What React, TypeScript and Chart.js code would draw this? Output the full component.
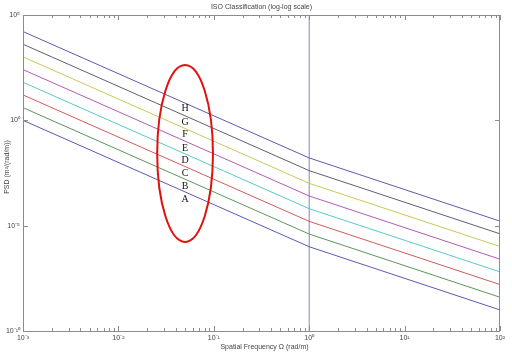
import React, { useEffect, useRef } from "react";
import { Chart, registerables } from "chart.js";

Chart.register(...registerables);

// Spatial frequency Ω (rad/m) break points
const OMEGA = [0.001, 1, 100];
// PSD values (m^2/(rad/m)) per ISO class at the break points
const CLASS_A = [1, 1e-6, 1e-9];
const CLASS_B = [4, 4e-6, 4e-9];
const CLASS_C = [16, 1.6e-5, 1.6e-8];
const CLASS_D = [64, 6.4e-5, 6.4e-8];
const CLASS_E = [256, 2.56e-4, 2.56e-7];
const CLASS_F = [1024, 1.024e-3, 1.024e-6];
const CLASS_G = [4096, 4.096e-3, 4.096e-6];
const CLASS_H = [16384, 1.6384e-2, 1.6384e-5];
const CLASS_NAMES = ["A", "B", "C", "D", "E", "F", "G", "H"];
const CLASS_COLORS = ["#5a5ab4", "#5a965a", "#d05a5a", "#5ac8c8", "#b45ab4", "#c8c85a", "#5f5f72", "#5a5ab4"];

// Reference frequency line Ω0
const OMEGA0_X = [1, 1];
const OMEGA0_Y = [1e-10, 1e5];

// Axis ticks
const X_TICKS = [
  0.001, 0.002, 0.003, 0.004, 0.005, 0.006, 0.007, 0.008, 0.009,
  0.01, 0.02, 0.03, 0.04, 0.05, 0.06, 0.07, 0.08, 0.09,
  0.1, 0.2, 0.3, 0.4, 0.5, 0.6, 0.7, 0.8, 0.9,
  1, 2, 3, 4, 5, 6, 7, 8, 9,
  10, 20, 30, 40, 50, 60, 70, 80, 90, 100,
];
const Y_TICKS = [1e-10, 1e-5, 1, 1e5];
const SUP: Record<string, string> = { "-": "⁻", "0": "⁰", "1": "¹", "2": "²", "3": "³", "4": "⁴", "5": "⁵", "6": "⁶", "7": "⁷", "8": "⁸", "9": "⁹" };

// Annotation (class letters in red ellipse), data coordinates
const LABEL_X = 0.05;
const LABEL_Y = [1.8e-4, 7.6e-4, 3.2e-3, 1.3e-2, 4.9e-2, 0.22, 0.83, 3.8];
const ELLIPSE_X = [0.0255, 0.098];
const ELLIPSE_Y = [1.7e-6, 420];

const TITLE = "ISO Classification (log-log scale)";
const X_TITLE = "Spatial Frequency Ω (rad/m)";
const Y_TITLE = "PSD (m²/(rad/m))";

function powLabel(v: number): string {
  const e = Math.round(Math.log10(v));
  if (Math.abs(Math.log10(v) - e) > 1e-9) return "";
  return "10" + String(e).split("").map((c) => SUP[c]).join("");
}

const AXIS_FONT = "'Liberation Sans', Arial, sans-serif";

export default function App() {
  const ref = useRef<HTMLCanvasElement | null>(null);
  useEffect(() => {
    if (!ref.current) return;
    const series = [CLASS_A, CLASS_B, CLASS_C, CLASS_D, CLASS_E, CLASS_F, CLASS_G, CLASS_H];
    const datasets: any[] = series.map((vals, i) => ({
      label: "Class " + CLASS_NAMES[i],
      data: OMEGA.map((x, j) => ({ x, y: vals[j] })),
      borderColor: CLASS_COLORS[i],
      borderWidth: 1,
      pointRadius: 0,
      tension: 0,
      fill: false,
    }));
    datasets.push({
      label: "Ω0",
      data: OMEGA0_X.map((x, j) => ({ x, y: OMEGA0_Y[j] })),
      borderColor: "#8585c2",
      borderWidth: 1,
      pointRadius: 0,
      fill: false,
    });

    const decor = {
      id: "decor",
      afterDraw(chart: any) {
        const ctx = chart.ctx as CanvasRenderingContext2D;
        const a = chart.chartArea;
        const xs = chart.scales.x;
        const ys = chart.scales.y;
        ctx.save();
        // box
        ctx.strokeStyle = "#8c8c8c";
        ctx.lineWidth = 1;
        ctx.strokeRect(a.left + 0.5, a.top + 0.5, a.right - a.left - 1, a.bottom - a.top);
        // x ticks (inward, top and bottom)
        ctx.beginPath();
        for (const t of xs.ticks) {
          const px = Math.round(xs.getPixelForValue(t.value)) + 0.5;
          const major = powLabel(t.value) !== "";
          const len = major ? 5 : 3;
          ctx.moveTo(px, a.bottom);
          ctx.lineTo(px, a.bottom - len);
          ctx.moveTo(px, a.top);
          ctx.lineTo(px, a.top + len);
        }
        for (const t of ys.ticks) {
          const py = Math.round(ys.getPixelForValue(t.value)) + 0.5;
          ctx.moveTo(a.left, py);
          ctx.lineTo(a.left + 5, py);
          ctx.moveTo(a.right, py);
          ctx.lineTo(a.right - 5, py);
        }
        ctx.stroke();
        // titles
        ctx.fillStyle = "#444";
        ctx.font = "7px " + AXIS_FONT;
        ctx.textAlign = "center";
        ctx.textBaseline = "middle";
        ctx.fillText(TITLE, (a.left + a.right) / 2, 7);
        ctx.fillText(X_TITLE, (a.left + a.right) / 2 + 3, 347);
        ctx.save();
        ctx.translate(7, (a.top + a.bottom) / 2 - 6);
        ctx.rotate(-Math.PI / 2);
        ctx.fillText(Y_TITLE, 0, 0);
        ctx.restore();
        // ellipse
        const x0 = xs.getPixelForValue(ELLIPSE_X[0]);
        const x1 = xs.getPixelForValue(ELLIPSE_X[1]);
        const y0 = ys.getPixelForValue(ELLIPSE_Y[1]);
        const y1 = ys.getPixelForValue(ELLIPSE_Y[0]);
        ctx.beginPath();
        ctx.ellipse((x0 + x1) / 2, (y0 + y1) / 2, (x1 - x0) / 2, (y1 - y0) / 2, 0, 0, Math.PI * 2);
        ctx.strokeStyle = "#e01010";
        ctx.lineWidth = 2;
        ctx.stroke();
        // class letters
        ctx.fillStyle = "#111";
        ctx.font = "10px 'Liberation Serif', 'Times New Roman', serif";
        const lx = xs.getPixelForValue(LABEL_X);
        CLASS_NAMES.forEach((n, i) => {
          ctx.fillText(n, lx, ys.getPixelForValue(LABEL_Y[i]));
        });
        ctx.restore();
      },
    };

    const chart = new Chart(ref.current, {
      type: "line",
      data: { datasets },
      options: {
        animation: false,
        responsive: false,
        devicePixelRatio: 1,
        layout: { padding: { top: 15, right: 12, left: 0, bottom: 0 } },
        plugins: { legend: { display: false }, title: { display: false }, tooltip: { enabled: false } },
        scales: {
          x: {
            type: "logarithmic",
            min: 0.001,
            max: 100,
            grid: { display: false, drawTicks: false },
            border: { display: false },
            afterBuildTicks: (s: any) => { s.ticks = X_TICKS.map((v) => ({ value: v })); },
            afterFit: (s: any) => { s.height = 25; },
            ticks: {
              autoSkip: false,
              maxRotation: 0,
              padding: 3,
              color: "#444",
              font: { size: 7, family: AXIS_FONT },
              callback: (v: any) => powLabel(Number(v)),
            },
          },
          y: {
            type: "logarithmic",
            min: 1e-10,
            max: 1e5,
            grid: { display: false, drawTicks: false },
            border: { display: false },
            afterBuildTicks: (s: any) => { s.ticks = Y_TICKS.map((v) => ({ value: v })); },
            afterFit: (s: any) => { s.width = 23; },
            ticks: {
              autoSkip: false,
              padding: 3,
              color: "#444",
              font: { size: 7, family: AXIS_FONT },
              callback: (v: any) => powLabel(Number(v)),
            },
          },
        },
      },
      plugins: [decor],
    } as any);
    return () => chart.destroy();
  }, []);

  return (
    <div style={{ position: "fixed", left: 0, top: 0, width: 512, height: 356, background: "#fff" }}>
      <canvas ref={ref} width={512} height={356} style={{ width: 512, height: 356, display: "block" }} />
    </div>
  );
}
